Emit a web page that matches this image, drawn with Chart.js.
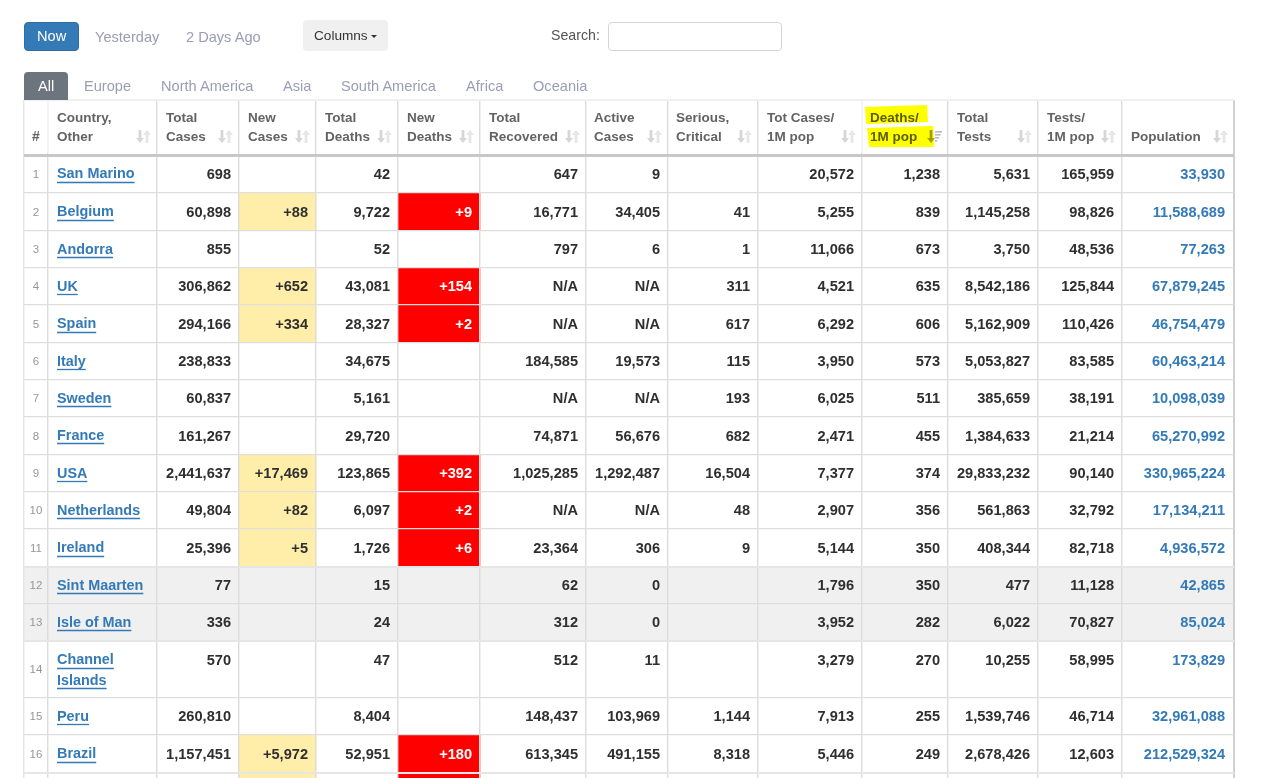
<!DOCTYPE html>
<html><head><meta charset="utf-8">
<script src="https://cdn.jsdelivr.net/npm/chart.js@4/dist/chart.umd.min.js"></script>
<style>
html,body{margin:0;padding:0;background:#fff;width:1280px;height:778px;overflow:hidden;font-family:"Liberation Sans",Arial,sans-serif}
#c{position:absolute;left:0;top:0}
.t{position:absolute;white-space:nowrap;font-size:14.6px;line-height:20px;color:#999db6}
.box{position:absolute;box-sizing:border-box}
</style></head><body>
<canvas id="c" width="1280" height="778"></canvas>
<div class="box" style="left:24px;top:22px;width:55px;height:29px;background:#337ab7;border-radius:4px;border:1px solid #2e6da4"></div>
<div class="t" style="left:37px;top:26px;color:#fff">Now</div>
<div class="t" style="left:95px;top:27px">Yesterday</div>
<div class="t" style="left:186px;top:27px">2 Days Ago</div>
<div class="box" style="left:303px;top:20px;width:85px;height:31px;background:#f0f0f0;border-radius:4px"></div>
<div class="t" style="left:314px;top:26px;color:#333;font-size:13.6px">Columns</div>
<div class="box" style="left:371px;top:35px;width:0;height:0;border-left:3px solid transparent;border-right:3px solid transparent;border-top:3px solid #333"></div>
<div class="t" style="left:551px;top:25px;color:#555;font-size:14.2px">Search:</div>
<div class="box" style="left:608px;top:22px;width:174px;height:29px;background:#fff;border:1px solid #d5d5d5;border-radius:4px"></div>
<div class="box" style="left:24px;top:72px;width:44px;height:28px;background:#6c757d;border-radius:4px 4px 0 0"></div>
<div class="t" style="left:38px;top:76px;color:#fff">All</div>
<div class="t" style="left:84px;top:76px">Europe</div>
<div class="t" style="left:161px;top:76px">North America</div>
<div class="t" style="left:283px;top:76px">Asia</div>
<div class="t" style="left:341px;top:76px">South America</div>
<div class="t" style="left:466px;top:76px">Africa</div>
<div class="t" style="left:533px;top:76px">Oceania</div>
<script>
const headers=[["#"],["Country,","Other"],["Total","Cases"],["New","Cases"],["Total","Deaths"],["New","Deaths"],["Total","Recovered"],["Active","Cases"],["Serious,","Critical"],["Tot Cases/","1M pop"],["Deaths/","1M pop"],["Total","Tests"],["Tests/","1M pop"],["Population"]];
const countries=["San Marino","Belgium","Andorra","UK","Spain","Italy","Sweden","France","USA","Netherlands","Ireland","Sint Maarten","Isle of Man","Channel Islands","Peru","Brazil"];
const totalCases=["698","60,898","855","306,862","294,166","238,833","60,837","161,267","2,441,637","49,804","25,396","77","336","570","260,810","1,157,451"];
const newCases=["","+88","","+652","+334","","","","+17,469","+82","+5","","","","","+5,972","+"];
const totalDeaths=["42","9,722","52","43,081","28,327","34,675","5,161","29,720","123,865","6,097","1,726","15","24","47","8,404","52,951"];
const newDeaths=["","+9","","+154","+2","","","","+392","+2","+6","","","","","+180","+"];
const totalRecovered=["647","16,771","797","N/A","N/A","184,585","N/A","74,871","1,025,285","N/A","23,364","62","312","512","148,437","613,345"];
const activeCases=["9","34,405","6","N/A","N/A","19,573","N/A","56,676","1,292,487","N/A","306","0","0","11","103,969","491,155"];
const serious=["","41","1","311","617","115","193","682","16,504","48","9","","","","1,144","8,318"];
const casesPerM=["20,572","5,255","11,066","4,521","6,292","3,950","6,025","2,471","7,377","2,907","5,144","1,796","3,952","3,279","7,913","5,446"];
const deathsPerM=["1,238","839","673","635","606","573","511","455","374","356","350","350","282","270","255","249"];
const totalTests=["5,631","1,145,258","3,750","8,542,186","5,162,909","5,053,827","385,659","1,384,633","29,833,232","561,863","408,344","477","6,022","10,255","1,539,746","2,678,426"];
const testsPerM=["165,959","98,826","48,536","125,844","110,426","83,585","38,191","21,214","90,140","32,792","82,718","11,128","70,827","58,995","46,714","12,603"];
const population=["33,930","11,588,689","77,263","67,879,245","46,754,479","60,463,214","10,098,039","65,270,992","330,965,224","17,134,211","4,936,572","42,865","85,024","173,829","32,961,088","212,529,324"];
const greyRows=["Sint Maarten","Isle of Man"];

const numericCols=[totalCases,newCases,totalDeaths,newDeaths,totalRecovered,activeCases,serious,casesPerM,deathsPerM,totalTests,testsPerM,population];
const colEdges=[24,48,157,239,316,398,480,586,668,758,862,948,1038,1122,1234];
const rowEdges=[100,155,193,231,268,305,343,380,417,455,492,529,567,604,641,698,735,773,811];
const FONT='"Liberation Sans",Arial,sans-serif';
const NEW_CASES_COL=3,NEW_DEATHS_COL=5,DEATHS_PER_M_COL=10,POP_COL=13;
const rowMid=i=>(rowEdges[i+1]+rowEdges[i+2])/2;
const cellBars=(vals,col)=>vals.map((v,i)=>v?{x:[colEdges[col],colEdges[col+1]],y:rowMid(i)}:null).filter(Boolean);
const greyBars=countries.map((c,i)=>greyRows.includes(c)?{x:[colEdges[0],colEdges[colEdges.length-1]],y:rowMid(i)}:null).filter(Boolean);

function arrow(ctx,x,y1,y2,w,color){
  const up=y2<y1,h=y2+(up?5:-5);ctx.fillStyle=color;ctx.beginPath();
  ctx.moveTo(x-1.4,y1);ctx.lineTo(x+1.4,y1);ctx.lineTo(x+1.4,h);ctx.lineTo(x+w,h);
  ctx.lineTo(x,y2);ctx.lineTo(x-w,h);ctx.lineTo(x-1.4,h);ctx.closePath();ctx.fill();
}
const tablePlugin={id:'table',
 beforeDatasetsDraw(chart){
  const {ctx,scales:{x,y}}=chart;
  ctx.save();ctx.fillStyle='#ffff00';
  [[[865,107],[927,105],[928,122],[866,124]],[[867,128],[933,126],[934,147],[869,147]]].forEach(p=>{
    ctx.beginPath();p.forEach(([a,b],i)=>i?ctx.lineTo(x.getPixelForValue(a),y.getPixelForValue(b)):ctx.moveTo(x.getPixelForValue(a),y.getPixelForValue(b)));ctx.closePath();ctx.fill();});
  ctx.restore();
 },
 afterDraw(chart){
  const {ctx,scales:{x,y}}=chart;
  ctx.save();ctx.textBaseline='middle';
  const px=v=>x.getPixelForValue(v),py=v=>y.getPixelForValue(v);
  // the header has almost no rule at these two column edges
  ctx.fillStyle='#f4f4f4';
  [colEdges[1],colEdges[DEATHS_PER_M_COL]].forEach(e=>ctx.fillRect(px(e)-1,py(101),2,py(153)-py(101)));
  ctx.font='bold 13.5px '+FONT;
  headers.forEach((h,c)=>{
    const left=colEdges[c],right=colEdges[c+1];
    ctx.fillStyle=c===DEATHS_PER_M_COL?'#5c5c00':'#636363';
    if(c===0){ctx.font='bold 14px '+FONT;ctx.textAlign='center';ctx.fillText(h[0],px((left+right)/2),py(137.5));ctx.font='bold 13.5px '+FONT;return;}
    ctx.textAlign='left';
    const tx=left+9-((c===DEATHS_PER_M_COL||c===7||c===8)?1:0);
    if(h.length===2){ctx.fillText(h[0],px(tx),py(118));ctx.fillText(h[1],px(tx),py(137.5));}
    else ctx.fillText(h[0],px(tx),py(137.5));
    if(c===DEATHS_PER_M_COL){
      arrow(ctx,px(right-17),py(130),py(143),4,'#a0a000');
      ctx.fillStyle='#bbbbbb';[7,5.5,4,2.5].forEach((w,k)=>ctx.fillRect(px(right-13),py(131+k*3),w,1.6));
    }else{
      arrow(ctx,px(right-17),py(130),py(143),4,'#d6d6d6');
      arrow(ctx,px(right-10),py(143),py(130),4,'#e6e6e6');
    }
  });
  countries.forEach((name,i)=>{
    const top=rowEdges[i+1],mid=rowMid(i);
    ctx.font='11.5px '+FONT;ctx.fillStyle='#969696';ctx.textAlign='center';
    ctx.fillText(String(i+1),px(36),py(mid+0.5));
    const tall=rowEdges[i+2]-top>45;
    const textY=tall?top+19:mid;
    ctx.font='bold 14.4px '+FONT;ctx.textAlign='left';ctx.fillStyle='#337ab7';ctx.strokeStyle='#337ab7';ctx.lineWidth=1.3;
    const lines=tall?name.split(' '):[name];
    lines.forEach((l,k)=>{
      const ly=textY+k*20.5;
      ctx.fillText(l,px(57),py(ly+0.5));
      const yy=Math.round(py(ly+7.5))+0.5;
      ctx.beginPath();ctx.moveTo(px(57),yy);ctx.lineTo(px(57)+ctx.measureText(l).width,yy);ctx.stroke();
    });
    ctx.font='bold 14.6px '+FONT;ctx.textAlign='right';
    numericCols.forEach((vals,k)=>{
      const col=k+2,v=vals[i];if(!v)return;
      ctx.fillStyle=col===NEW_DEATHS_COL?'#ffffff':col===POP_COL?'#337ab7':'#2f2f2f';
      ctx.fillText(v,px(colEdges[col+1]-(col===POP_COL?9:8)),py(textY+0.5));
    });
  });
  ctx.restore();
 }
};
new Chart(document.getElementById('c'),{
 type:'bar',
 data:{datasets:[
  {data:greyBars,backgroundColor:'#f0f0f0',barThickness:37,order:3},
  {data:cellBars(newCases,NEW_CASES_COL),backgroundColor:'#ffeeaa',barThickness:37.5,order:2},
  {data:cellBars(newDeaths,NEW_DEATHS_COL),backgroundColor:'#ff0000',barThickness:37.5,order:1}
 ]},
 plugins:[tablePlugin],
 options:{
  indexAxis:'y',responsive:false,animation:false,devicePixelRatio:1,
  layout:{padding:{left:24,right:46,top:100,bottom:0}},
  datasets:{bar:{grouped:false}},
  plugins:{legend:{display:false},tooltip:{enabled:false}},
  scales:{
   x:{type:'linear',min:24,max:1234,offset:false,border:{display:false},ticks:{display:false,autoSkip:false},
      afterBuildTicks:s=>{s.ticks=colEdges.map(v=>({value:v}));},
      grid:{z:1,offset:false,drawTicks:false,
        color:c=>{const v=c.tick&&c.tick.value;return v===1234?'#d0d0d0':v===24?'#e4e4e4':'#dcdcdc';},
        lineWidth:c=>{const v=c.tick&&c.tick.value;return v===1234?2:1.4;}}},
   y:{type:'linear',min:100,max:778,reverse:true,offset:false,border:{display:false},ticks:{display:false,autoSkip:false},
      afterBuildTicks:s=>{s.ticks=rowEdges.filter(v=>v<=778).map(v=>({value:v}));},
      grid:{z:1,offset:false,drawTicks:false,
        color:c=>{const v=c.tick&&c.tick.value;return v===155?'#c8c8c8':v===100?'#f0f0f0':[567,641,773].includes(v)?'#e6e6e6':'#dedede';},
        lineWidth:c=>{const v=c.tick&&c.tick.value;return v===155?3:[100,567,641,773].includes(v)?2:1.2;}}}
  }
 }
});
</script>
</body></html>
